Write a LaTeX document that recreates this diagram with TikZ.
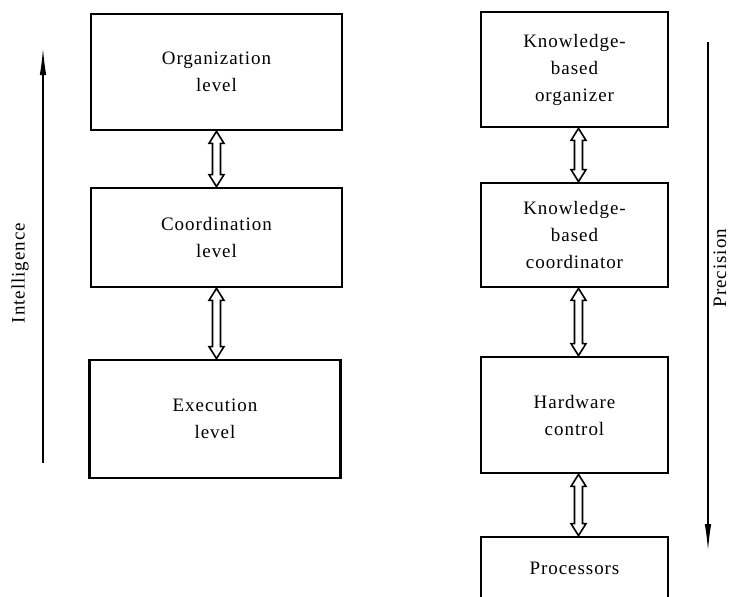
\documentclass[tikz,border=0pt]{standalone}
\usepackage{fontspec}
\setmainfont{Liberation Serif}[LetterSpace=5]
\usetikzlibrary{arrows.meta,calc}

\tikzset{
  arrow offset/.store in=\arrowoff, arrow offset=0pt,
  level/.style={draw, line width=2.8pt, align=center, inner sep=0pt,
    font=\fontsize{19}{27}\selectfont},
  leftbox/.style={level, minimum width=251pt},
  rightbox/.style={level, minimum width=187pt},
  axislabel/.style={rotate=90, font=\fontsize{19}{23}\selectfont},
  axisline/.style={line width=1.7pt, -{Latex[length=28pt,width=6.5pt]}},
  % hollow two-headed block arrow between two stacked boxes
  dblarrow/.style={line width=1.6pt, fill=white,
    to path={let \p1=(\tikztostart.south), \p2=(\tikztotarget.north),
      \n1={\x1+\arrowoff} in
      (\n1,\y1) -- (\n1+7.5pt,\y1-12pt) -- (\n1+4pt,\y1-12pt)
      -- (\n1+4pt,\y2+12pt) -- (\n1+7.5pt,\y2+12pt) -- (\n1,\y2)
      -- (\n1-7.5pt,\y2+12pt) -- (\n1-4pt,\y2+12pt)
      -- (\n1-4pt,\y1-12pt) -- (\n1-7.5pt,\y1-12pt) -- cycle}},
}

\begin{document}
\begin{tikzpicture}[x=1pt, y=-1pt]
\useasboundingbox (0,0) rectangle (731,597);

% left column: levels of the hierarchy
\node[leftbox, minimum height=116pt] (org) at (216.5,72) {Organization\\level};
\node[leftbox, minimum height=99pt] (coord) at (216.5,237.5) {Coordination\\level};
\node[leftbox, minimum height=118pt] (exec) at (215,419) {Execution\\level};

% right column: their realisation
\node[rightbox, minimum height=115pt] (kbo) at (574.5,69.5) {Knowledge-\\based\\organizer};
\node[rightbox, minimum height=104pt] (kbc) at (574.5,235) {Knowledge-\\based\\coordinator};
\node[rightbox, minimum height=116pt] (hw) at (574.5,415) {Hardware\\control};
\node[rightbox, minimum height=63pt] (proc) at (574.5,568.5) {Processors};

% two-way links
\draw[dblarrow] (org) to (coord);
\draw[dblarrow] (coord) to (exec);
\draw[dblarrow, arrow offset=4pt] (kbo) to (kbc);
\draw[dblarrow, arrow offset=4pt] (kbc) to (hw);
\draw[dblarrow, arrow offset=4pt] (hw) to (proc);

% intelligence axis (increasing upwards)
\coordinate (ilow) at (43,463);
\coordinate (ihigh) at (43,47);
\draw[axisline] (ilow) -- (ihigh);
\node[axislabel] (intel) at (20,273) {Intelligence};

% precision axis (increasing downwards)
\coordinate (ptop) at (708,42);
\coordinate (pbot) at (708,552);
\draw[axisline] (ptop) -- (pbot);
\node[axislabel] (prec) at (720,268) {Precision};
\end{tikzpicture}
\end{document}
